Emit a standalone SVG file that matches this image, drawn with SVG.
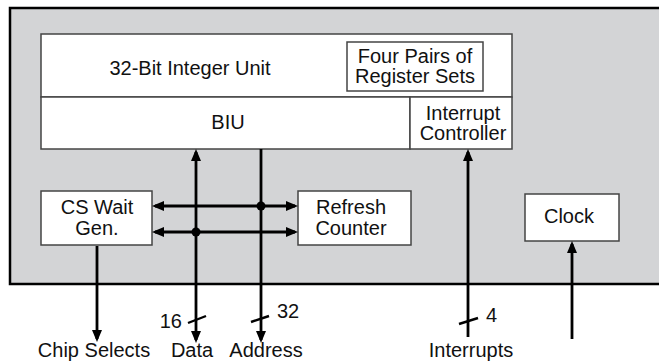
<svg xmlns="http://www.w3.org/2000/svg" width="659" height="364" viewBox="0 0 659 364">
<style>
text{font-family:"Liberation Sans",Arial,sans-serif;font-size:20px;fill:#111;text-anchor:middle}
.box{fill:#fff;stroke:#444;stroke-width:1.5}
.wire{fill:none;stroke:#000;stroke-width:2.8}
.tick{fill:none;stroke:#000;stroke-width:2.4}
</style>
<defs>
<marker id="ah" viewBox="0 0 12 10" refX="9" refY="5" markerWidth="12" markerHeight="10" markerUnits="userSpaceOnUse" orient="auto-start-reverse">
<path d="M0,0 L12,5 L0,10 z" fill="#000"/>
</marker>
</defs>
<g id="chip">
<rect x="10" y="8" width="670" height="276" fill="#d3d4d6" stroke="#000" stroke-width="2.5"/>
</g>
<g id="integer-unit">
<rect class="box" x="41" y="34" width="471" height="63"/>
<text x="190" y="75">32-Bit Integer Unit</text>
</g>
<g id="register-sets">
<rect class="box" x="347" y="42" width="136" height="49"/>
<text x="415" y="63">Four Pairs of</text>
<text x="415" y="83">Register Sets</text>
</g>
<g id="biu">
<rect class="box" x="41" y="97" width="369" height="52"/>
<text x="228" y="129">BIU</text>
</g>
<g id="interrupt-controller">
<rect class="box" x="410" y="97" width="102" height="52"/>
<text x="463" y="120">Interrupt</text>
<text x="463" y="140">Controller</text>
</g>
<g id="cs-wait-gen">
<rect class="box" x="41" y="191" width="111" height="54"/>
<text x="97" y="214">CS Wait</text>
<text x="97" y="235">Gen.</text>
</g>
<g id="refresh-counter">
<rect class="box" x="298" y="191" width="113" height="54"/>
<text x="351" y="214">Refresh</text>
<text x="351" y="235">Counter</text>
</g>
<g id="clock">
<rect class="box" x="525" y="194" width="94" height="47"/>
<text x="569" y="223">Clock</text>
</g>
<g id="connectors">
<path class="wire" d="M196,340 L196,152" marker-start="url(#ah)" marker-end="url(#ah)"/>
<path class="wire" d="M261,149 L261,340" marker-end="url(#ah)"/>
<path class="wire" d="M97,246 L97,339" marker-end="url(#ah)"/>
<path class="wire" d="M468,337 L468,152" marker-end="url(#ah)"/>
<path class="wire" d="M572,339 L572,244" marker-end="url(#ah)"/>
<path class="wire" d="M155,206 L295,206" marker-start="url(#ah)" marker-end="url(#ah)"/>
<path class="wire" d="M155,232 L295,232" marker-start="url(#ah)" marker-end="url(#ah)"/>
<circle cx="261" cy="206" r="4.5" fill="#000"/>
<circle cx="196" cy="232" r="4.5" fill="#000"/>
<path class="tick" d="M188,323 L206,316"/>
<path class="tick" d="M251,322 L269,316"/>
<path class="tick" d="M459,324 L478,318"/>
</g>
<g id="labels">
<text x="182" y="328" style="text-anchor:end">16</text>
<text x="277" y="318" style="text-anchor:start">32</text>
<text x="486" y="322" style="text-anchor:start">4</text>
<text x="94" y="357">Chip Selects</text>
<text x="192" y="357">Data</text>
<text x="266" y="357">Address</text>
<text x="471" y="357">Interrupts</text>
</g>
</svg>
